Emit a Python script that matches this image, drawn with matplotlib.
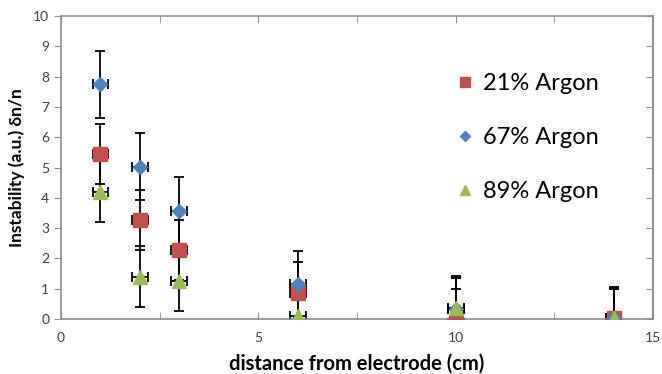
import matplotlib
matplotlib.use('Agg')
import matplotlib.pyplot as plt
from matplotlib.ticker import MultipleLocator

plt.rcParams['font.family'] = ['Lato', 'DejaVu Sans']

# distance from electrode (cm)
x_pos = [1, 2, 3, 6, 10, 14]

# instability values per argon fraction
ar21 = [5.45, 3.27, 2.28, 0.87, -0.12, 0.03]
ar67 = [7.75, 5.03, 3.58, 1.15, 0.33, 0.03]
ar89 = [4.2, 1.4, 1.25, 0.1, 0.37, 0.02]

ar21_err = [1.0, 1.0, 1.0, 1.0, 1.1, 0.97]
ar67_err = [1.1, 1.1, 1.1, 1.1, 1.1, 1.02]
ar89_err = [1.0, 1.0, 1.0, 1.0, 1.0, 1.0]
x_err = 0.2

series = [
    ('21% Argon', ar21, ar21_err, '#C0504D', 's', 9.5),
    ('67% Argon', ar67, ar67_err, '#4F81BD', 'D', 7.5),
    ('89% Argon', ar89, ar89_err, '#9BBB59', '^', 10.5),
]

fig = plt.figure(figsize=(6.62, 3.74), dpi=100)
ax = fig.add_axes([0.0921, 0.147, 0.8943, 0.81])

handles = []
for label, ys, yerr, color, marker, ms in series:
    ax.errorbar(x_pos, ys, yerr=yerr, xerr=x_err, fmt='none', ecolor='black',
                elinewidth=1.3, capsize=3.5, capthick=1.3, zorder=2)
    h, = ax.plot(x_pos, ys, linestyle='none', marker=marker, markersize=ms,
                 color=color, markeredgecolor=color, label=label, zorder=3)
    handles.append(h)

ax.set_xlim(0, 15)
ax.set_ylim(0, 10)
ax.xaxis.set_major_locator(MultipleLocator(5))
ax.xaxis.set_minor_locator(MultipleLocator(2.5))
ax.yaxis.set_major_locator(MultipleLocator(1))

for s in ax.spines.values():
    s.set_color('#8c8c8c')
    s.set_linewidth(1.2)

ax.tick_params(axis='y', which='both', left=True, right=False, direction='out',
               length=5, color='#8c8c8c', labelsize=10, labelcolor='#404040')
ax.tick_params(axis='x', which='both', bottom=True, top=True, direction='in',
               length=5, color='#8c8c8c', labelsize=10, labelcolor='#404040', pad=9)

# right-hand ticks point inward, like the original
right = ax.secondary_yaxis('right')
right.yaxis.set_major_locator(MultipleLocator(1))
right.tick_params(direction='in', length=5, color='#8c8c8c', labelright=False)
right.spines['right'].set_color('#8c8c8c')
right.spines['right'].set_linewidth(1.2)

ax.set_xlabel('distance from electrode (cm)', fontsize=14.5, fontweight='bold', labelpad=7)
ax.set_ylabel('Instability (a.u.) δn/n', fontsize=12.5, fontweight='bold', labelpad=6)

ax.legend(handles=handles, loc='upper left', bbox_to_anchor=(0.635, 0.882),
          frameon=False, fontsize=17, labelspacing=1.4, handlelength=0.6,
          handletextpad=0.45, markerscale=0.7)

fig.savefig('out.png', dpi=100)
